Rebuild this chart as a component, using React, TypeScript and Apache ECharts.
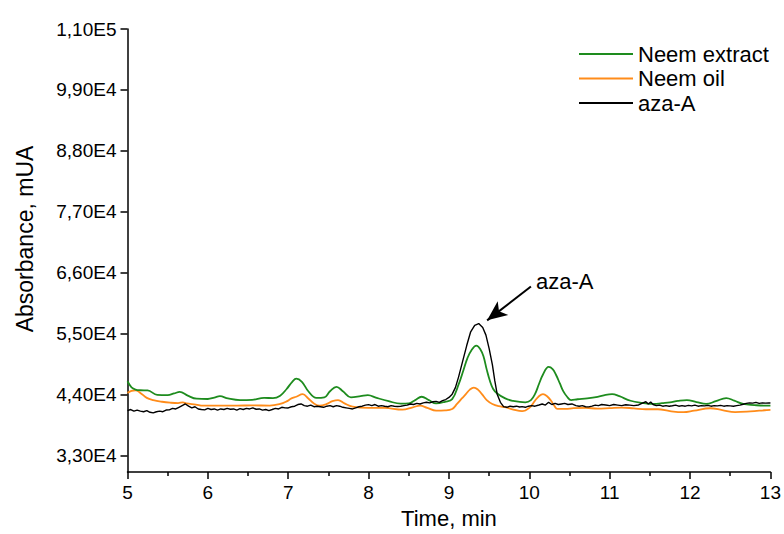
import React, { useEffect, useRef } from "react";
import * as echarts from "echarts";

// ---- Data ----
const neemExtract: [number, number][] = [
  [5.0, 46400], [5.05, 45300], [5.1, 44900], [5.16, 44780], [5.25, 44750], [5.37, 43950], [5.5, 43900],
  [5.58, 44200], [5.65, 44480], [5.75, 43800], [5.86, 43250], [6.0, 43200], [6.08, 43450], [6.15, 43700],
  [6.25, 43300], [6.4, 43000], [6.55, 43050], [6.7, 43400], [6.81, 43350], [6.9, 43800], [6.98, 45000],
  [7.05, 46300], [7.1, 46860], [7.17, 46300], [7.25, 44600], [7.35, 43400], [7.45, 43500], [7.52, 44600],
  [7.6, 45400], [7.68, 44600], [7.78, 43500], [7.9, 43700], [7.99, 43900], [8.1, 43400], [8.25, 42800],
  [8.4, 42350], [8.5, 42400], [8.58, 43000], [8.66, 43600], [8.75, 43000], [8.84, 42400], [8.95, 42700],
  [9.04, 43180], [9.12, 45830], [9.18, 48400], [9.23, 50590], [9.28, 52000], [9.34, 52830], [9.39, 52200],
  [9.43, 50870], [9.47, 48500], [9.51, 46440], [9.55, 45000], [9.6, 44190], [9.7, 43300], [9.79, 42880],
  [9.95, 42600], [10.02, 43000], [10.07, 44070], [10.12, 45900], [10.17, 47620], [10.24, 48990],
  [10.29, 48600], [10.33, 47620], [10.38, 46000], [10.42, 44660], [10.47, 43600], [10.52, 43000],
  [10.6, 43150], [10.72, 43310], [10.85, 43600], [10.95, 43950], [11.03, 44070], [11.12, 43700],
  [11.26, 42880], [11.4, 42500], [11.55, 42300], [11.65, 42450], [11.75, 42600], [11.85, 42850],
  [11.96, 43000], [12.08, 42650], [12.2, 42300], [12.32, 42800], [12.45, 43360], [12.55, 42900],
  [12.66, 42300], [12.8, 42100], [12.95, 41990], [13.0, 42000],
];

const neemOil: [number, number][] = [
  [5.0, 44300], [5.05, 44650], [5.1, 44780], [5.16, 44300], [5.24, 43400], [5.32, 43000], [5.43, 42700],
  [5.53, 42530], [5.63, 42450], [5.69, 42600], [5.73, 42400], [5.85, 42200], [5.94, 42000], [6.15, 42000],
  [6.36, 42000], [6.55, 42050], [6.77, 42000], [6.9, 42300], [6.98, 42770], [7.04, 43300], [7.1, 43600],
  [7.18, 44070], [7.25, 43300], [7.32, 42400], [7.39, 42000], [7.48, 42300], [7.55, 42800], [7.62, 43000],
  [7.7, 42400], [7.8, 41820], [8.0, 41580], [8.2, 41580], [8.42, 41280], [8.55, 41700], [8.64, 42000],
  [8.73, 41600], [8.84, 41110], [8.95, 41150], [9.04, 41400], [9.1, 42300], [9.16, 43300], [9.21, 44070],
  [9.26, 44900], [9.31, 45260], [9.36, 44900], [9.41, 44070], [9.47, 43000], [9.54, 42300], [9.62, 41900],
  [9.7, 41710], [9.8, 41300], [9.91, 41000], [10.0, 41600], [10.07, 42880], [10.12, 43700], [10.17, 44070],
  [10.22, 43700], [10.27, 42880], [10.31, 42000], [10.35, 41400], [10.45, 41400], [10.55, 41550],
  [10.7, 41600], [10.85, 41450], [11.0, 41550], [11.15, 41650], [11.3, 41500], [11.45, 41350],
  [11.6, 41350], [11.75, 41000], [11.92, 40820], [12.05, 41100], [12.25, 41530], [12.4, 41200],
  [12.56, 40820], [12.75, 40950], [12.93, 41170], [13.0, 41250],
];

const azaA: [number, number][] = [
  [5.0, 41100], [5.04, 41300], [5.08, 41000], [5.12, 41200], [5.16, 41000], [5.2, 40900], [5.24, 41100],
  [5.28, 40800], [5.32, 40700], [5.36, 40900], [5.4, 41000], [5.44, 40900], [5.48, 41200], [5.52, 41240],
  [5.56, 41500], [5.6, 41400], [5.64, 41700], [5.68, 42000], [5.72, 42300], [5.76, 41900], [5.8, 41600],
  [5.84, 41800], [5.88, 41400], [5.92, 41300], [5.96, 41240], [6.0, 41500], [6.04, 41300], [6.08, 41400],
  [6.12, 41200], [6.16, 41400], [6.2, 41300], [6.24, 41500], [6.28, 41350], [6.32, 41400], [6.36, 41200],
  [6.4, 41450], [6.44, 41300], [6.48, 41500], [6.52, 41400], [6.56, 41600], [6.6, 41350], [6.64, 41400],
  [6.68, 41200], [6.72, 41300], [6.76, 41110], [6.8, 41300], [6.84, 41500], [6.88, 41400], [6.92, 41700],
  [6.96, 41600], [7.0, 41580], [7.04, 41800], [7.08, 41900], [7.12, 42200], [7.16, 42300], [7.2, 42000],
  [7.24, 41900], [7.28, 42100], [7.32, 41800], [7.36, 41900], [7.4, 41800], [7.44, 41700], [7.48, 41900],
  [7.52, 42000], [7.56, 41800], [7.6, 42000], [7.64, 41900], [7.68, 41700], [7.72, 41600], [7.76, 41500],
  [7.8, 41400], [7.84, 41600], [7.88, 41800], [7.92, 41900], [7.96, 42100], [8.0, 42180], [8.04, 42000],
  [8.08, 42200], [8.12, 41900], [8.16, 42000], [8.2, 41880], [8.24, 41800], [8.28, 42000], [8.32, 41900],
  [8.36, 41850], [8.4, 41880], [8.44, 42000], [8.48, 42100], [8.52, 42300], [8.56, 42200], [8.6, 42400],
  [8.64, 42300], [8.68, 42500], [8.72, 42600], [8.76, 42500], [8.8, 42700], [8.84, 42770], [8.88, 42600],
  [8.92, 42900], [8.96, 43100], [9.0, 43490], [9.04, 44070], [9.08, 45260], [9.12, 47200], [9.17, 50000],
  [9.22, 52800], [9.27, 55330], [9.32, 56500], [9.37, 56820], [9.42, 56100], [9.46, 54730], [9.5, 52300],
  [9.54, 49400], [9.57, 46500], [9.6, 44070], [9.64, 42600], [9.68, 41820], [9.72, 41700], [9.76, 41900],
  [9.8, 41800], [9.84, 41900], [9.88, 41750], [9.91, 41820], [9.95, 41700], [9.99, 41900], [10.03, 42000],
  [10.07, 41900], [10.12, 42120], [10.16, 42300], [10.2, 42100], [10.24, 42600], [10.28, 42200],
  [10.32, 42400], [10.36, 42200], [10.4, 42300], [10.44, 42400], [10.48, 42200], [10.53, 42300],
  [10.58, 42000], [10.62, 41900], [10.66, 42000], [10.7, 41800], [10.74, 41770], [10.78, 41900],
  [10.82, 42100], [10.86, 42000], [10.9, 42200], [10.95, 42120], [11.0, 42000], [11.05, 42200],
  [11.1, 42100], [11.15, 42000], [11.2, 42150], [11.25, 42100], [11.3, 42000], [11.36, 42120],
  [11.4, 42400], [11.45, 42700], [11.48, 42300], [11.51, 42650], [11.54, 42200], [11.58, 42000],
  [11.62, 42100], [11.66, 41900], [11.7, 42000], [11.74, 41900], [11.78, 41990], [11.82, 42100],
  [11.86, 41900], [11.9, 42000], [11.94, 41900], [11.98, 42050], [12.02, 41950], [12.06, 42100],
  [12.1, 41900], [12.14, 42000], [12.18, 41950], [12.22, 42050], [12.26, 41900], [12.3, 42000],
  [12.34, 41950], [12.38, 42050], [12.42, 41900], [12.46, 42000], [12.5, 41950], [12.54, 41900],
  [12.58, 42000], [12.62, 42100], [12.66, 42250], [12.7, 42400], [12.74, 42500], [12.78, 42450],
  [12.82, 42600], [12.86, 42400], [12.9, 42500], [12.94, 42450], [12.98, 42500], [13.0, 42480],
];

const yTickValues = [33000, 44000, 55000, 66000, 77000, 88000, 99000, 110000];
const seriesNames = ["Neem extract", "Neem oil", "aza-A"];
const seriesColors = ["#1e8c1e", "#ff8c1a", "#000000"];
const annotationLabel = "aza-A";
const arrowTail: [number, number] = [10.02, 63500];
const arrowTip: [number, number] = [9.475, 57400];

const FONT = 'Arial, "Liberation Sans", sans-serif';

function fmtSci(v: number): string {
  const exp = Math.floor(Math.log10(v));
  const m = v / Math.pow(10, exp);
  return m.toFixed(2).replace(".", ",") + "E" + exp;
}

export default function App() {
  const ref = useRef<HTMLDivElement>(null);
  useEffect(() => {
    if (!ref.current) return;
    const chart = echarts.init(ref.current, undefined, { renderer: "svg" });
    const axisLine = { show: true, lineStyle: { color: "#000", width: 1.5 } };
    chart.setOption({
      animation: false,
      backgroundColor: "#fff",
      grid: { left: 127.5, right: 12.5, top: 29, bottom: 55 },
      legend: {
        orient: "vertical",
        left: 579,
        top: 43,
        icon: "rect",
        itemWidth: 54,
        itemHeight: 2,
        itemGap: 2.5,
        padding: 0,
        data: seriesNames,
        textStyle: { fontFamily: FONT, fontSize: 22, lineHeight: 22, color: "#000" },
      },
      xAxis: {
        type: "value",
        min: 5,
        max: 13,
        interval: 1,
        name: "Time, min",
        nameLocation: "middle",
        nameGap: 29,
        nameTextStyle: { fontFamily: FONT, fontSize: 22, color: "#000" },
        axisLine,
        axisTick: { show: true, inside: false, length: 7, lineStyle: { color: "#000", width: 1.5 } },
        minorTick: { show: true, splitNumber: 2, length: 4, lineStyle: { color: "#000", width: 1.5 } },
        axisLabel: { fontFamily: FONT, fontSize: 19, color: "#000", margin: 11 },
        splitLine: { show: false },
      },
      yAxis: {
        type: "value",
        min: 30000,
        max: 110000,
        axisLine,
        axisTick: {
          show: true,
          inside: false,
          length: 7,
          customValues: yTickValues,
          lineStyle: { color: "#000", width: 1.5 },
        },
        axisLabel: {
          fontFamily: FONT,
          fontSize: 19,
          color: "#000",
          margin: 11,
          customValues: yTickValues,
          formatter: (v: number) => fmtSci(v),
        },
        splitLine: { show: false },
      },
      series: [
        {
          name: seriesNames[0],
          type: "line",
          data: neemExtract,
          showSymbol: false,
          smooth: 0.4,
          lineStyle: { color: seriesColors[0], width: 1.8 },
          itemStyle: { color: seriesColors[0] },
          z: 3,
        },
        {
          name: seriesNames[1],
          type: "line",
          data: neemOil,
          showSymbol: false,
          smooth: 0.4,
          lineStyle: { color: seriesColors[1], width: 1.8 },
          itemStyle: { color: seriesColors[1] },
          z: 2,
        },
        {
          name: seriesNames[2],
          type: "line",
          data: azaA,
          showSymbol: false,
          lineStyle: { color: seriesColors[2], width: 1.4 },
          itemStyle: { color: seriesColors[2] },
          z: 4,
          markLine: {
            silent: true,
            symbol: ["none", "arrow"],
            symbolSize: [13, 20],
            label: { show: false },
            lineStyle: { color: "#000", width: 2, type: "solid" },
            data: [[{ coord: arrowTail }, { coord: arrowTip }]],
          },
        },
      ],
    });
    const tail = chart.convertToPixel({ gridIndex: 0 }, arrowTail) as number[];
    chart.setOption({
      graphic: [
        {
          type: "text",
          x: tail[0] + 5,
          y: tail[1] - 5,
          style: {
            text: annotationLabel,
            fontFamily: FONT,
            fontSize: 22,
            fill: "#000",
            textAlign: "left",
            textVerticalAlign: "middle",
          },
        },
        {
          type: "text",
          x: 24.5,
          y: 239,
          rotation: Math.PI / 2,
          style: {
            text: "Absorbance, mUA",
            fontFamily: FONT,
            fontSize: 23,
            fill: "#000",
            textAlign: "center",
            textVerticalAlign: "middle",
          },
        },
      ],
    });
    return () => chart.dispose();
  }, []);
  return (
    <div
      ref={ref}
      style={{ position: "fixed", left: 0, top: 0, width: 784, height: 534, background: "#fff" }}
    />
  );
}
